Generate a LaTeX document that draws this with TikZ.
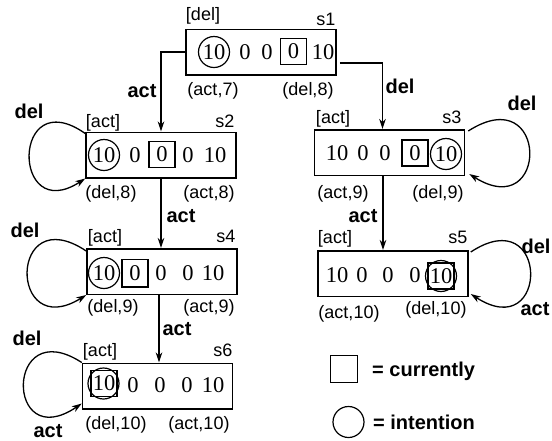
\documentclass[tikz,border=0pt]{standalone}
\usepackage{fontspec}
\setmainfont{Liberation Serif}
\setsansfont{Liberation Sans}
\usetikzlibrary{arrows.meta,calc}
\tikzset{
  statebox/.style={draw, line width=1.5pt, minimum width=150pt, minimum height=45.5pt, inner sep=0pt},
  dig/.style={font=\fontsize{22.5}{22.5}\selectfont, inner sep=0pt},
  circd/.style={dig, draw, circle, line width=1.2pt, minimum size=31pt},
  boxd/.style={dig, draw, line width=1.4pt, minimum size=26pt},
  lbl/.style={font=\sffamily\fontsize{18}{18}\selectfont, inner sep=0pt, anchor=base},
  blbl/.style={font=\sffamily\bfseries\fontsize{20}{20}\selectfont, inner sep=0pt, anchor=base},
  arr/.style={line width=1.3pt, -{Stealth[length=10pt,width=6.5pt,inset=3pt]}},
}
\begin{document}
\begin{tikzpicture}[x=1pt,y=-1pt]
\useasboundingbox (0,0) rectangle (552,440);
% state boxes
\node[statebox] (s1) at (261,52) {};
\node[statebox] (s2) at (161,155) {};
\node[statebox] (s3) at (389.5,152.5) {};
\node[statebox] (s4) at (162,271.5) {};
\node[statebox] (s5) at (393,273.5) {};
\node[statebox] (s6) at (157.5,386) {};
% s1 contents
\node[circd] (s1a) at (214,52) {10};
\node[dig] (s1b) at (245,52) {0};
\node[dig] (s1c) at (267,52) {0};
\node[boxd] (s1d) at (293.5,51.5) {0};
\node[dig] (s1e) at (323,52) {10};
% s2 contents
\node[circd] (s2a) at (104,155) {10};
\node[dig] (s2b) at (135,155) {0};
\node[boxd] (s2c) at (162,154.5) {0};
\node[dig] (s2d) at (188,155) {0};
\node[dig] (s2e) at (215,155) {10};
% s3 contents
\node[dig] (s3a) at (337,153) {10};
\node[dig] (s3b) at (363,153) {0};
\node[dig] (s3c) at (385,153) {0};
\node[boxd] (s3d) at (415,153) {0};
\node[circd] (s3e) at (446,154) {10};
% s4 contents
\node[circd] (s4a) at (104,273) {10};
\node[dig] (s4b) at (135,273) {0};
\node[dig] (s4c) at (161,273) {0};
\node[dig] (s4d) at (188,273) {0};
\node[dig] (s4e) at (213,273) {10};
\draw[line width=1.4pt] ($(s4b)+(-13,-13.5)$) rectangle ($(s4b)+(13,14)$);
% s5 contents
\node[dig] (s5a) at (337,275) {10};
\node[dig] (s5b) at (362,275) {0};
\node[dig] (s5c) at (388,275) {0};
\node[dig] (s5d) at (415,275) {0};
\node[boxd] (s5e) at (441,276) {10};
\node[circd] (s5f) at (441,276) {};
% s6 contents
\node[boxd] (s6a) at (104,383.5) {10};
\node[circd] (s6f) at (103.5,383.5) {};
\node[dig] (s6b) at (133,385) {0};
\node[dig] (s6c) at (160,385) {0};
\node[dig] (s6d) at (187,385) {0};
\node[dig] (s6e) at (213,385) {10};
% labels above / below boxes
\node[lbl] (l1a) at (203,20) {[del]};
\node[lbl] (l1b) at (326,25) {s1};
\node[lbl] (l1c) at (213,95) {(act,7)};
\node[lbl] (l1d) at (308,95) {(del,8)};
\node[lbl] (l2a) at (103,127) {[act]};
\node[lbl] (l2b) at (225,127) {s2};
\node[lbl] (l2c) at (111,198) {(del,8)};
\node[lbl] (l2d) at (209,198) {(act,8)};
\node[lbl] (l3a) at (333,123) {[act]};
\node[lbl] (l3b) at (452,123) {s3};
\node[lbl] (l3c) at (343,198) {(act,9)};
\node[lbl] (l3d) at (438,198) {(del,9)};
\node[lbl] (l4a) at (105,242) {[act]};
\node[lbl] (l4b) at (226,242) {s4};
\node[lbl] (l4c) at (113,312) {(del,9)};
\node[lbl] (l4d) at (209,312) {(act,9)};
\node[lbl] (l5a) at (335,243) {[act]};
\node[lbl] (l5b) at (458,243) {s5};
\node[lbl] (l5c) at (349,318) {(act,10)};
\node[lbl] (l5d) at (436,314) {(del,10)};
\node[lbl] (l6a) at (100,356) {[act]};
\node[lbl] (l6b) at (223,356) {s6};
\node[lbl] (l6c) at (116,429) {(del,10)};
\node[lbl] (l6d) at (199,429) {(act,10)};
% transitions
\coordinate (x46) at (159,0);
\coordinate (x35) at (383,0);
\draw[arr] (s1.west) -| (s2.north);
\draw[arr] ($(s1.east)+(3,11)$) -| ($(s3.north)+(-7,0)$);
\draw[arr] (s2.south) -- (s2.south |- s4.north);
\draw[arr] (s4.south -| x46) -- (s6.north -| x46);
\draw[arr] (s3.south -| x35) -- (s5.north -| x35);
\node[blbl] (t12) at (142,97) {act};
\node[blbl] (t13) at (400,93) {del};
\node[blbl] (t24) at (181,222) {act};
\node[blbl] (t46) at (177,335) {act};
\node[blbl] (t35) at (363,222) {act};
% self loops
\draw[arr] ($(s2.north west)+(0,2)$) .. controls ($(s2.north west)+(-74,-50)$) and ($(s2.south west)+(-74,48)$) .. (s2.south west);
\draw[arr] ($(s4.north west)+(0,3)$) .. controls ($(s4.north west)+(-78,-49)$) and ($(s4.south west)+(-78,48)$) .. (s4.south west);
\draw[arr] (s6.north west) .. controls ($(s6.north west)+(-77,-50)$) and ($(s6.south west)+(-77,46)$) .. ($(s6.south west)+(0,-6)$);
\draw[arr] ($(s3.north east)+(3,2)$) .. controls ($(s3.north east)+(84,-50)$) and ($(s3.south east)+(84,48)$) .. ($(s3.south east)+(4,-2)$);
\draw[arr] ($(s5.north east)+(2,2)$) .. controls ($(s5.north east)+(81,-50)$) and ($(s5.south east)+(81,48)$) .. ($(s5.south east)+(2,-3)$);
\node[blbl] (d2) at (29,118) {del};
\node[blbl] (d4) at (25,237) {del};
\node[blbl] (d6) at (27,345) {del};
\node[blbl] (a6) at (48,437) {act};
\node[blbl] (d3) at (522,110) {del};
\node[blbl] (d5) at (536,253) {del};
\node[blbl] (a5) at (535,315) {act};
% legend
\node[draw, line width=1.4pt, minimum size=27pt, inner sep=0pt] (legsq) at (344,369) {};
\node[draw, circle, line width=1.2pt, minimum size=31pt, inner sep=0pt] (legci) at (348.5,422) {};
\node[blbl, anchor=base west] (legt1) at (372,376) {= currently};
\node[blbl, anchor=base west] (legt2) at (373,429) {= intention};
\end{tikzpicture}
\end{document}
